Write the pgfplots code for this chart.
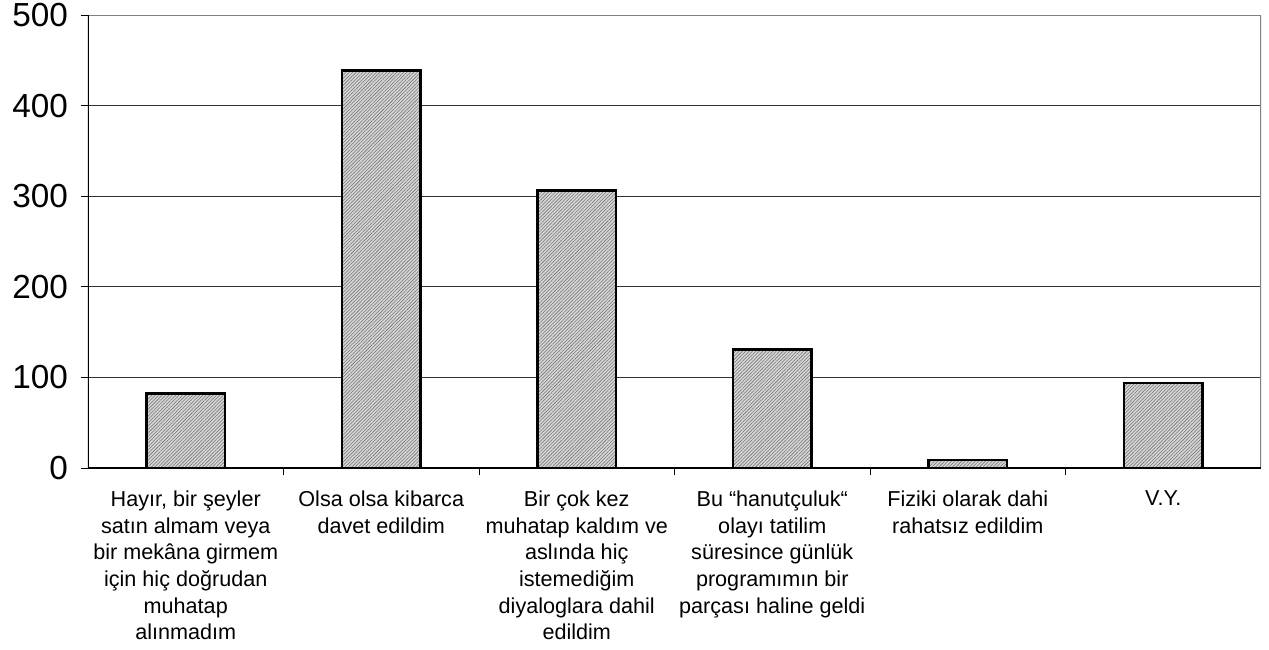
\documentclass[border=0pt]{standalone}
\usepackage{fontspec}
\setmainfont{Liberation Sans}
\usepackage{pgfplots}
\pgfplotsset{compat=1.18}
\usetikzlibrary{patterns.meta}
\begin{document}
\begin{tikzpicture}[x=1pt,y=1pt]
\useasboundingbox (-66,-135.75) rectangle (885.75,351);
\begin{axis}[
  at={(0,0)}, anchor=south west,
  scale only axis, width=879.75pt, height=339.75pt,
  xmin=-0.5, xmax=5.5, ymin=0, ymax=500,
  ytick={0,100,...,500},
  xtick={0.5,1.5,2.5,3.5,4.5},
  xticklabels={},
  extra x ticks={0,1,2,3,4,5},
  extra x tick labels={{Hayır, bir şeyler\\satın almam veya\\bir mekâna girmem\\için hiç doğrudan\\muhatap\\alınmadım},
    {Olsa olsa kibarca\\davet edildim},
    {Bir çok kez\\muhatap kaldım ve\\aslında hiç\\istemediğim\\diyaloglara dahil\\edildim},
    {Bu “hanutçuluk“\\olayı tatilim\\süresince günlük\\programımın bir\\parçası haline geldi},
    {Fiziki olarak dahi\\rahatsız edildim},
    {V.Y.}},
  extra x tick style={major tick length=0pt, grid=none},
  xtick pos=left, ytick pos=left,
  tick align=outside,
  major tick length=5.5pt,
  tick style={black, line width=0.75pt},
  axis line style={draw=none},
  ymajorgrids,
  grid style={black!80, line width=0.75pt},
  /pgf/number format/assume math mode=true,
  yticklabel style={font=\fontsize{25}{28}\selectfont, xshift=-6pt},
  xticklabel style={font=\fontsize{16.2}{20}\selectfont, align=center, anchor=north, yshift=-13.5pt},
]
\addplot[ybar, bar width=0.4, bar shift=0pt, draw=none, fill=black!16,
  postaction={pattern={Lines[angle=45,distance=1.8pt,line width=0.42pt]}, pattern color=black!55}]
  coordinates {(0,82)(1,439)(2,306)(3,131)(4,9)(5,94)};
\addplot[ybar, bar width=0.4, bar shift=0pt, draw=black, line width=2pt, fill=none]
  coordinates {(0,82)(1,439)(2,306)(3,131)(4,9)(5,94)};
\draw[black!50, line width=1.5pt] (rel axis cs:0,1) -- (rel axis cs:1,1) -- (rel axis cs:1,0);
\draw[black, line width=0.9pt] (rel axis cs:0,1) -- (rel axis cs:0,0) -- (rel axis cs:1,0);
\end{axis}
\end{tikzpicture}
\end{document}
